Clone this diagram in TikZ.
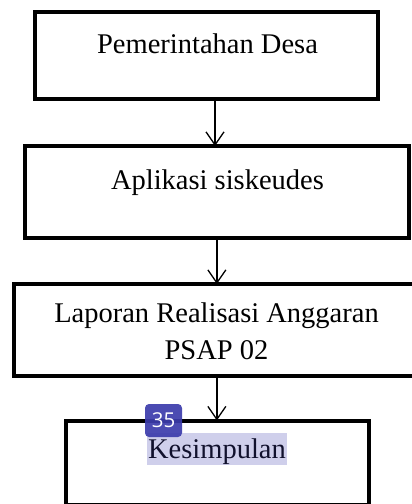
\documentclass[tikz,border=0pt]{standalone}
\usepackage{fontspec}
\setmainfont{Liberation Serif}
\newfontfamily\badgefont{Open Sans}
\usetikzlibrary{arrows.meta}
\definecolor{badgecol}{RGB}{60,60,172}
\definecolor{hilite}{RGB}{70,70,180}
\begin{document}
\begin{tikzpicture}[x=1pt,y=-1pt,
  box/.style={draw, line width=4pt, outer sep=0pt, inner sep=0pt},
  lbl/.style={font=\fontsize{28.5}{35}\selectfont, inner sep=0pt, anchor=base},
  arr/.style={line width=1.3pt, -{Straight Barb[length=13pt,width=18pt,line width=1.3pt]}}]
\useasboundingbox[fill=white] (0,0) rectangle (412,504);
% boxes
\node[box, minimum width=343pt, minimum height=87.5pt] (b1) at (206.5,55.25) {};
\node[box, minimum width=384.3pt, minimum height=92pt] (b2) at (216.85,192) {};
\node[box, minimum width=408pt, minimum height=91.5pt] (b3) at (218,329.75) {};
\node[box, minimum width=303.5pt, minimum height=84.5pt] (b4) at (217.25,462.75) {};
% texts
\node[lbl] (t1) at (207.5,53.3) {Pemerintahan Desa};
\node[lbl] (t2) at (217.5,189) {Aplikasi siskeudes};
\node[lbl] (t3a) at (216.5,322.7) {Laporan Realisasi Anggaran};
\node[lbl] (t3b) at (216.5,359) {PSAP 02};
\node[lbl] (t4) at (217,458) {Kesimpulan};
% connectors
\coordinate (a1) at (215,0);
\draw[arr] (b1.south -| a1) -- (b2.north -| a1);
\draw[arr] (b2.south) -- (b2.south |- b3.north);
\draw[arr] (b3.south -| b2.south) -- (b2.south |- b4.north);
% highlight and badge overlay
\fill[hilite, fill opacity=0.254] (147,433) rectangle (287,465);
\node[fill=badgecol, fill opacity=0.92, text opacity=1, text=white, rounded corners=4pt,
  minimum width=37pt, minimum height=33pt, inner sep=0pt,
  font=\badgefont\fontsize{20.5}{20.5}\selectfont] (badge) at (163.5,420.5) {35};
\end{tikzpicture}
\end{document}
